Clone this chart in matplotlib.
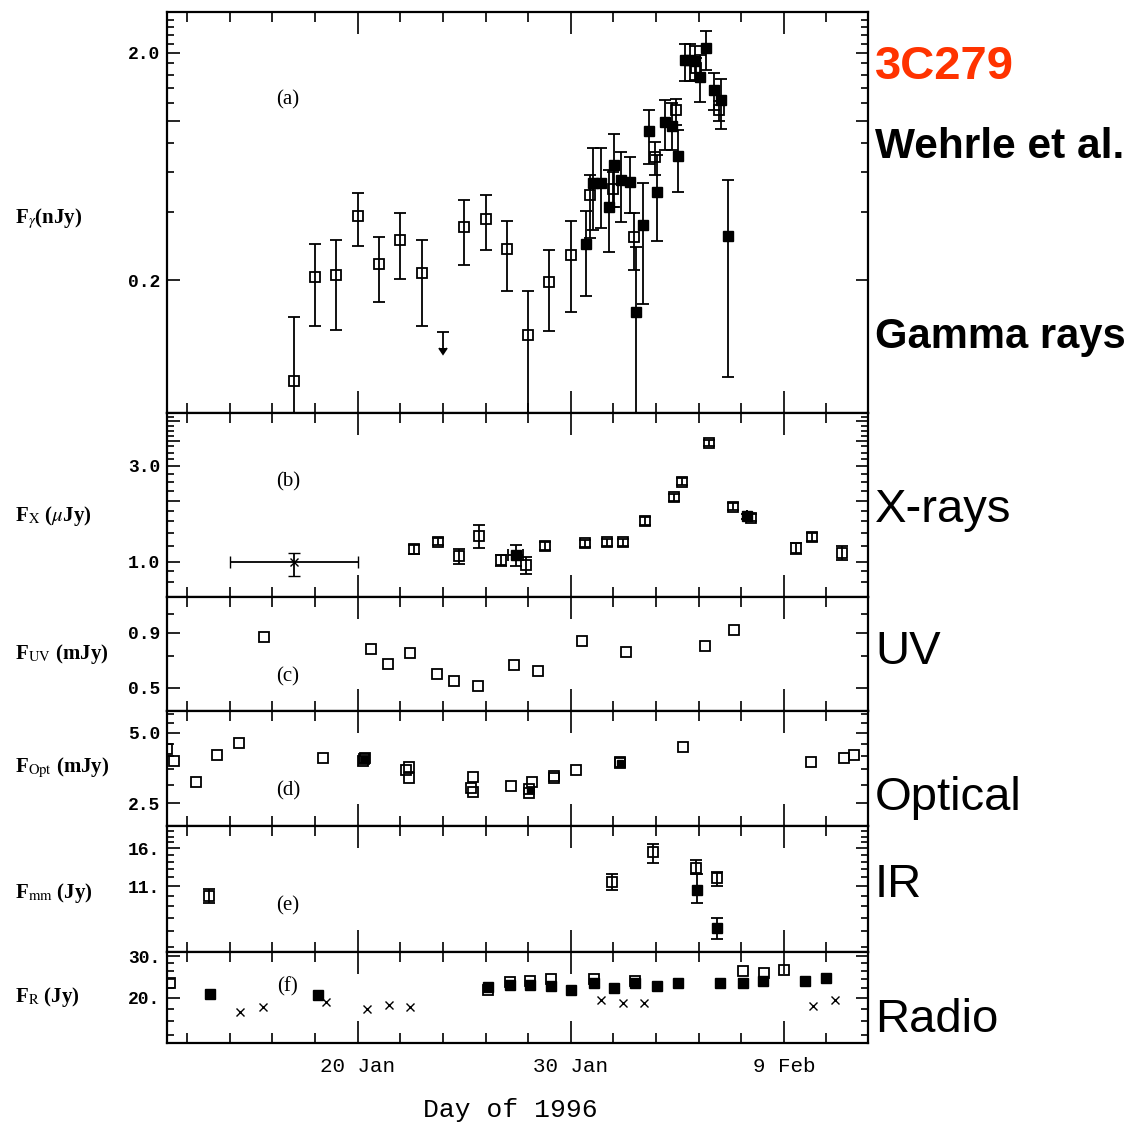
import numpy as np
import matplotlib
matplotlib.use("Agg")
import matplotlib.pyplot as plt
from matplotlib.ticker import FixedLocator, FixedFormatter, NullFormatter

plt.rcParams['mathtext.fontset'] = 'stix'

# ---- (a) gamma rays, open / filled squares with error bounds
ga_open_day = [17.0, 18.0, 19.0, 20.0, 21.0, 22.0, 23.0, 25.0, 26.0, 27.0, 28.0, 29.0, 30.0,
               30.92, 31.96, 32.96, 33.94, 34.96, 35.87, 36.95]
ga_open_flux = [0.072, 0.207, 0.210, 0.383, 0.236, 0.299, 0.214, 0.344, 0.373, 0.274, 0.115, 0.197, 0.257,
                0.474, 0.506, 0.310, 0.70, 1.12, 1.71, 1.12]
ga_open_hi = [0.138, 0.289, 0.299, 0.482, 0.309, 0.395, 0.299, 0.450, 0.473, 0.364, 0.180, 0.271, 0.364,
              0.580, 0.600, 0.395, 0.81, 1.25, 1.90, 1.23]
ga_open_lo = [0.030, 0.126, 0.121, 0.284, 0.161, 0.202, 0.126, 0.234, 0.271, 0.180, 0.030, 0.119, 0.145,
              0.305, 0.420, 0.221, 0.58, 0.96, 1.50, 1.00]

ga_fill_day = [30.70, 31.02, 31.44, 31.78, 32.03, 32.37, 32.77, 33.08, 33.40, 33.68, 34.05, 34.41,
               34.73, 35.04, 35.35, 35.59, 35.82, 36.06, 36.37, 36.71, 37.07, 37.38]
ga_fill_flux = [0.287, 0.533, 0.538, 0.418, 0.640, 0.551, 0.542, 0.145, 0.349, 0.906, 0.487, 0.994,
                0.95, 0.703, 1.87, 1.87, 1.85, 1.56, 2.10, 1.38, 1.24, 0.312]
ga_fill_hi = [0.404, 0.760, 0.760, 0.609, 0.880, 0.734, 0.696, 0.280, 0.538, 1.124, 0.711, 1.24,
              1.20, 0.916, 2.18, 2.18, 2.15, 1.96, 2.49, 1.63, 1.53, 0.551]
ga_fill_lo = [0.170, 0.332, 0.340, 0.265, 0.421, 0.361, 0.395, 0.030, 0.157, 0.65, 0.297, 0.75,
              0.75, 0.489, 1.50, 1.50, 1.52, 1.22, 1.69, 1.12, 0.93, 0.0746]

ga_ul_day = [24.0]
ga_ul_flux = [0.118]

# ---- (b) X-rays
xr_day = [22.63, 23.79, 24.74, 25.68, 26.74, 27.89, 28.78, 30.69, 31.68, 32.43, 33.50, 34.85,
          35.20, 36.49, 37.62, 38.45, 40.56, 41.33, 42.74]
xr_flux = [1.157, 1.262, 1.071, 1.35, 1.02, 0.966, 1.20, 1.239, 1.25, 1.25, 1.605, 2.10,
           2.51, 3.90, 1.885, 1.66, 1.17, 1.327, 1.11]
xr_err = [0.06, 0.05, 0.09, 0.17, 0.06, 0.09, 0.05, 0.05, 0.05, 0.05, 0.07, 0.08,
          0.09, 0.12, 0.07, 0.07, 0.07, 0.06, 0.09]
xr_fill_day = [27.42, 38.25]
xr_fill_flux = [1.08, 1.69]
xr_fill_err = [0.13, 0.05]
xr_cross_day = [17.0]
xr_cross_flux = [1.0]

# ---- (c) UV
uv_day = [15.61, 20.62, 21.40, 22.45, 23.74, 24.54, 25.63, 27.33, 28.45, 30.52, 32.58, 36.32, 37.68]
uv_flux = [0.865, 0.758, 0.646, 0.729, 0.582, 0.540, 0.508, 0.636, 0.596, 0.828, 0.734, 0.785, 0.932]

# ---- (d) optical
opt_day = [11.03, 11.40, 12.41, 13.42, 14.43, 18.37, 20.25, 20.30, 20.35, 22.26, 22.43, 22.43,
           25.40, 25.33, 25.40, 27.20, 28.04, 28.04, 28.20, 29.23, 29.23, 30.24, 32.32, 32.32,
           35.25, 41.27, 42.84, 43.30]
opt_flux = [4.26, 3.79, 3.09, 4.04, 4.52, 3.91, 3.80, 3.86, 3.92, 3.47, 3.58, 3.20,
            3.24, 2.92, 2.79, 2.97, 2.89, 2.78, 3.07, 3.27, 3.22, 3.46, 3.71, 3.77,
            4.34, 3.74, 3.91, 4.04]
opt_fill_day = [20.30, 28.10, 32.32]
opt_fill_flux = [3.85, 2.86, 3.72]

# ---- (e) mm
mm_open_day = [13.01, 31.94, 33.87, 35.87, 36.88]
mm_open_flux = [9.96, 11.5, 15.4, 13.2, 11.9]
mm_open_hi = [10.7, 12.4, 16.7, 14.2, 12.7]
mm_open_lo = [9.3, 10.6, 13.8, 12.4, 11.0]
mm_fill_day = [35.91, 36.88]
mm_fill_flux = [10.6, 7.25]
mm_fill_hi = [12.4, 8.0]
mm_fill_lo = [9.3, 6.5]

# ---- (f) radio
rad_fill_day = [13.08, 18.12, 26.12, 27.14, 28.10, 29.09, 30.00, 31.08, 32.03, 33.03, 34.05,
                35.04, 37.00, 38.10, 39.03, 40.99, 42.00]
rad_fill_flux = [20.8, 20.6, 22.2, 22.7, 22.7, 22.5, 21.6, 23.0, 22.1, 23.0, 22.5,
                 23.0, 23.2, 23.2, 23.6, 23.6, 24.3]
rad_open_day = [11.17, 26.12, 27.14, 28.10, 29.09, 31.08, 33.03, 38.06, 39.06, 40.00]
rad_open_flux = [23.2, 21.5, 23.4, 23.6, 24.0, 24.0, 23.6, 26.0, 25.4, 26.2]
rad_x_day = [14.49, 15.55, 18.50, 20.45, 21.47, 22.47, 31.41, 32.43, 33.45, 41.35, 42.39]
rad_x_flux = [17.5, 18.3, 19.2, 17.9, 18.7, 18.3, 19.5, 19.1, 19.0, 18.4, 19.5]

W, H = 1132, 1124
fig = plt.figure(figsize=(W / 100, H / 100), dpi=100)

left, right = 167, 868
edges = [12, 413, 597, 711, 826, 952, 1043]
axes = []
for i in range(6):
    top, bot = edges[i], edges[i + 1]
    ax = fig.add_axes([left / W, 1 - bot / H, (right - left) / W, (bot - top) / H],
                      sharex=axes[0] if axes else None)
    axes.append(ax)

mono = 'Liberation Mono'
serif = 'Liberation Serif'
lw = 1.3


def err(flux, lo, hi):
    f = np.array(flux)
    return [f - np.array(lo), np.array(hi) - f]


def style(ax, ylim, major, labels, minor):
    ax.set_yscale('log')
    ax.set_ylim(*ylim)
    ax.yaxis.set_major_locator(FixedLocator(major))
    ax.yaxis.set_major_formatter(FixedFormatter(labels))
    ax.yaxis.set_minor_locator(FixedLocator(minor))
    ax.yaxis.set_minor_formatter(NullFormatter())
    ax.set_xlim(11.05, 43.95)
    ax.xaxis.set_major_locator(FixedLocator([20, 30, 40]))
    ax.xaxis.set_minor_locator(FixedLocator(np.arange(12, 44, 2)))
    ax.tick_params(axis='both', which='both', direction='in', top=True, right=True,
                   width=1.2, colors='black')
    ax.tick_params(axis='x', which='major', length=16)
    ax.tick_params(axis='x', which='minor', length=7)
    ax.tick_params(axis='y', which='major', length=9, pad=5)
    ax.tick_params(axis='y', which='minor', length=5)
    for lab in ax.get_yticklabels():
        lab.set_fontfamily(mono)
        lab.set_fontweight('bold')
        lab.set_fontsize(13)
    for s in ax.spines.values():
        s.set_linewidth(1.6)


open_kw = dict(fmt='s', mfc='none', mec='black', mew=lw, ecolor='black', elinewidth=lw,
               capsize=4, capthick=lw, color='black')
fill_kw = dict(fmt='s', mfc='black', mec='black', ecolor='black', elinewidth=lw,
               capsize=4, capthick=lw, color='black')

# (a)
ax = axes[0]
ax.errorbar(ga_open_day, ga_open_flux, yerr=err(ga_open_flux, ga_open_lo, ga_open_hi), ms=7, **open_kw)
ax.errorbar(ga_fill_day, ga_fill_flux, yerr=err(ga_fill_flux, ga_fill_lo, ga_fill_hi), ms=6.5, **fill_kw)
ax.errorbar(ga_ul_day, ga_ul_flux, yerr=[[0.018], [0]], uplims=True, fmt='_', ms=9, mew=lw,
            color='black', elinewidth=lw)
style(ax, (0.052, 3.03), [0.2, 1.0, 2.0], ['0.2', '', '2.0'],
      [0.4, 0.6, 0.8, 1.2, 1.4, 1.6, 1.8, 2.2, 2.4, 2.6, 2.8])

# (b)
ax = axes[1]
ax.errorbar(xr_day, xr_flux, yerr=xr_err, ms=7, **open_kw)
ax.errorbar(xr_fill_day, xr_fill_flux, yerr=xr_fill_err, xerr=[0.35, 0], ms=6.5, **fill_kw)
ax.errorbar(xr_cross_day, xr_cross_flux, xerr=3.0, yerr=[[0.145], [0.105]], fmt='x', ms=6,
            mew=1.0, color='black', ecolor='black', elinewidth=lw, capsize=4, capthick=lw)
style(ax, (0.67, 5.5), [1.0, 2.0, 3.0, 4.0, 5.0], ['1.0', '', '3.0', '', ''],
      [0.8, 0.9, 1.2, 1.4, 1.6, 1.8, 2.25, 2.5, 2.75, 3.25, 3.5, 3.75, 4.25, 4.5, 4.75, 5.25])

# (c)
ax = axes[2]
ax.plot(uv_day, uv_flux, 's', ms=7, mfc='none', mec='black', mew=lw)
style(ax, (0.39, 1.32), [0.5, 0.9], ['0.5', '0.9'], [0.7, 1.1])

# (d)
ax = axes[3]
ax.plot(opt_day, opt_flux, 's', ms=7, mfc='none', mec='black', mew=lw)
ax.plot(opt_fill_day, opt_fill_flux, 's', ms=4, mfc='black', mec='black')
style(ax, (2.0, 6.2), [2.5, 5.0], ['2.5', '5.0'], [3.0, 3.5, 4.0, 4.5, 5.5, 6.0])

# (e)
ax = axes[4]
ax.errorbar(mm_open_day, mm_open_flux, yerr=err(mm_open_flux, mm_open_lo, mm_open_hi), ms=7, **open_kw)
ax.errorbar(mm_fill_day, mm_fill_flux, yerr=err(mm_fill_flux, mm_fill_lo, mm_fill_hi), ms=6.5, **fill_kw)
style(ax, (5.7, 20.0), [11.0, 16.0], ['11.', '16.'],
      [6, 7, 8, 9, 10, 12, 13, 14, 15, 17, 18, 19])

# (f)
ax = axes[5]
ax.plot(rad_open_day, rad_open_flux, 's', ms=7, mfc='none', mec='black', mew=lw)
ax.plot(rad_fill_day, rad_fill_flux, 's', ms=6.5, mfc='black', mec='black')
ax.plot(rad_x_day, rad_x_flux, 'x', ms=6, mew=1.0, color='black')
style(ax, (12.9, 31.2), [20.0, 30.0], ['20.', '30.'], [14, 16, 18, 22, 24, 26, 28])

for a in axes[:-1]:
    a.tick_params(axis='x', labelbottom=False)
bx = axes[-1]
bx.xaxis.set_major_formatter(FixedFormatter(['20 Jan', '30 Jan', '9 Feb']))
bx.tick_params(axis='x', which='major', pad=10)
for lab in bx.get_xticklabels():
    lab.set_fontfamily(mono)
    lab.set_fontsize(15)
fig.text(510 / W, 1 - 1110 / H, 'Day of 1996', family=mono, fontsize=19, ha='center', va='center')

# y labels and panel tags
ylabels = [r'F$_{\gamma}$(nJy)', r'F$_{\rm X}$ ($\mu$Jy)', r'F$_{\rm UV}$ (mJy)',
           r'F$_{\rm Opt}$ (mJy)', r'F$_{\rm mm}$ (Jy)', r'F$_{\rm R}$ (Jy)']
ylab_y = [0.486, 0.44, 0.5, 0.504, 0.468, 0.505]
tags = ['(a)', '(b)', '(c)', '(d)', '(e)', '(f)']
tag_y = [0.78, 0.625, 0.30, 0.304, 0.365, 0.615]
for a, lab, ly, t, ty in zip(axes, ylabels, ylab_y, tags, tag_y):
    a.text((15 - left) / (right - left), ly, lab, transform=a.transAxes, family=serif,
           fontweight='bold', fontsize=15, ha='left', va='center')
    a.text(0.1726, ty, t, transform=a.transAxes, family=serif, fontsize=15,
           ha='center', va='center')

# right-hand annotations
sans = 'Liberation Sans'
fig.text(875 / W, 1 - 79 / H, '3C279', family=sans, fontweight='bold', fontsize=34,
         color='#FF3300', va='baseline')
fig.text(875 / W, 1 - 158 / H, 'Wehrle et al.', family=sans, fontweight='bold', fontsize=30.5,
         va='baseline')
fig.text(875 / W, 1 - 348 / H, 'Gamma rays', family=sans, fontweight='bold', fontsize=30,
         va='baseline')
for txt, base in [('X-rays', 522), ('UV', 664), ('Optical', 810), ('IR', 897), ('Radio', 1032)]:
    fig.text(875 / W, 1 - base / H, txt, family=sans, fontsize=34, va='baseline')

fig.savefig('out.png', dpi=100, facecolor='white')
